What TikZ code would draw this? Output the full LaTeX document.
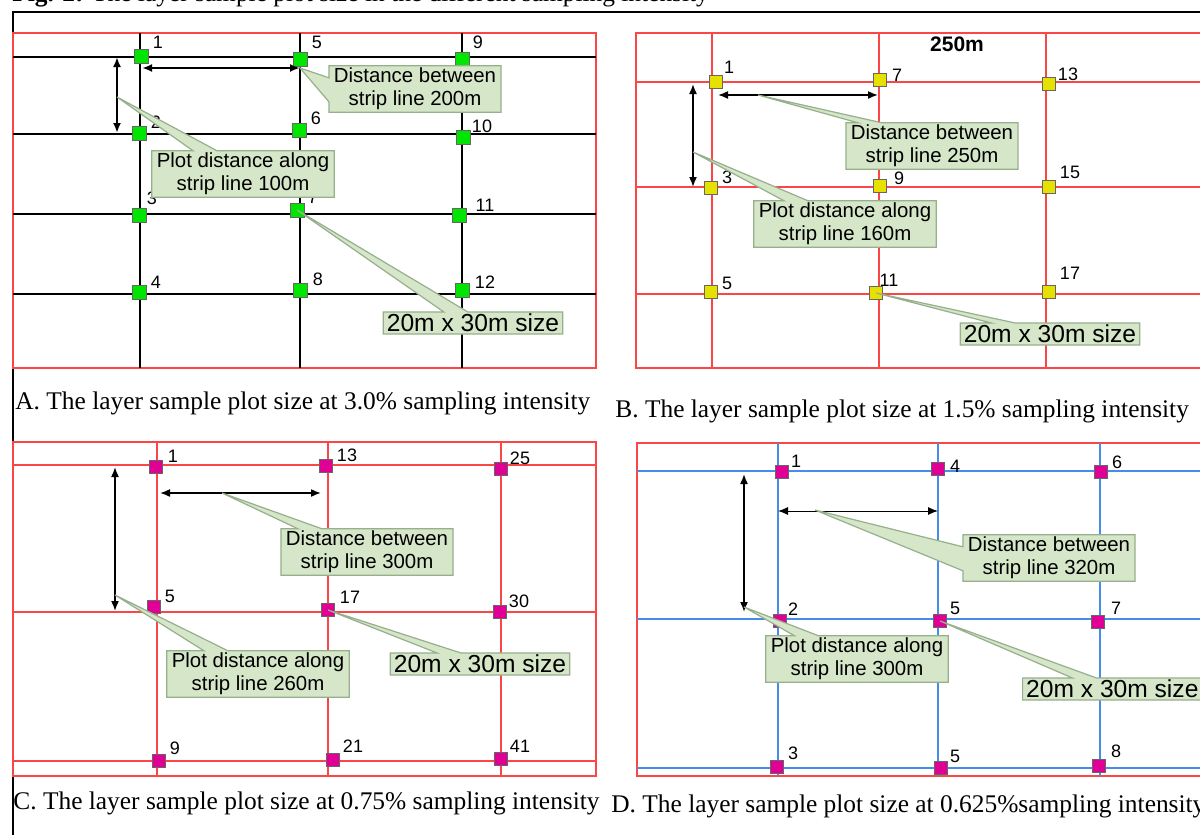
\documentclass[tikz,border=0pt]{standalone}
\usepackage{fontspec}
\setmainfont{Liberation Serif}
\setsansfont{Liberation Sans}
\usetikzlibrary{arrows.meta,shapes.callouts}

\definecolor{linered}{RGB}{250,70,70}
\definecolor{lineblue}{RGB}{70,140,235}
\definecolor{plotgreen}{RGB}{0,230,0}
\definecolor{plotyellow}{RGB}{230,225,0}
\definecolor{plotpink}{RGB}{225,0,150}
\definecolor{notefill}{RGB}{214,230,200}
\definecolor{noteedge}{RGB}{150,175,140}

\tikzset{
  stripblack/.style={draw=black, line width=1pt},
  stripred/.style={draw=linered, line width=0.8pt},
  stripblue/.style={draw=lineblue, line width=0.8pt},
  plot/.style={draw=black!60, line width=0.4pt, minimum size=6.5pt, inner sep=0pt},
  num/.style={font=\sffamily\fontsize{9}{9}\selectfont, inner sep=0pt},
  note/.style={rectangle callout, fill=notefill, draw=noteedge, line width=0.6pt,
    align=center, inner xsep=2.5pt, inner ysep=1.2pt, callout pointer width=12pt,
    font=\sffamily\fontsize{10.2}{11.3}\selectfont},
  bignote/.style={note, inner xsep=1.8pt, inner ysep=1pt,
    font=\sffamily\fontsize{12.3}{13}\selectfont},
  dimarrow/.style={{Latex[length=5pt,width=4pt]}-{Latex[length=5pt,width=4pt]}, line width=0.8pt},
  caption/.style={font=\fontsize{12.7}{14}\selectfont, inner sep=0pt, anchor=base west},
}

\begin{document}
\begin{tikzpicture}[x=0.5pt,y=-0.5pt]
  \useasboundingbox (0,0) rectangle (1200,835);

  % Figure title (cut by the page) and outer frame
  \node[caption] (title) at (12,2) {\textbf{Fig. 2:} The layer sample plot size in the different sampling intensity};
  \draw[line width=1pt] (1200,12) -- (13,12) -- (13,835);

  % ---------------- A: 3.0% ----------------
  \draw[stripred] (13,33) rectangle (596,368);
  \foreach \x in {140,300,462} {
      \draw[stripblack] (\x,33) -- (\x,368);
  }
  \foreach \y in {57,134,214,294} {
      \draw[stripblack] (13,\y) -- (596,\y);
  }
  \foreach \x/\y/\lx/\ly/\t [count=\i] in {141/56/158/42/1, 139/133/156/122/2, 139/215/152/198/3,
      139/292/156/282/4, 300/59/317/42/5, 299/130/316/118/6, 297/210/313/197/7, 300/290/318/279/8,
      462/59/478/42/9, 463/137/482/126/10, 459/215/485/205/11, 462/290/485/282/12} {
      \node[plot, fill=plotgreen, minimum size=7pt] (a\i) at (\x,\y) {};
      \node[num] (la\i) at (\lx,\ly) {\t};
  }
  \coordinate (aH1) at (142,68);
  \coordinate (aH2) at (300,68);
  \coordinate (aV1) at (117,57);
  \coordinate (aV2) at (117,133);
  \draw[dimarrow, line width=1pt] (aH1) -- (aH2);
  \draw[dimarrow, line width=1pt] (aV1) -- (aV2);
  \coordinate (aVmid) at (117,97);
  \node[note, callout absolute pointer={(aH2)}] (aDist) at (415,89) {Distance between\\strip line 200m};
  \node[note, callout absolute pointer={(aVmid)}] (aPlot) at (243,174) {Plot distance along\\strip line 100m};
  \node[bignote, callout absolute pointer={(a7)}] (aSize) at (473,323) {20m x 30m size};
  \node[caption] (capA) at (15,409) {A. The layer sample plot size at 3.0\% sampling intensity};

  % ---------------- B: 1.5% ----------------
  \draw[stripred] (636,33) rectangle (1204,368);
  \foreach \x in {712,879,1046} {
      \draw[stripred] (\x,33) -- (\x,368);
  }
  \foreach \y in {82,187,294} {
      \draw[stripred] (636,\y) -- (1204,\y);
  }
  \node[font=\sffamily\bfseries\fontsize{10.5}{11}\selectfont, inner sep=0pt] (bHead) at (957,44) {250m};
  \foreach \x/\y/\lx/\ly/\t [count=\i] in {716/82/729/67/1, 711/188/727/177/3, 711/292/727/283/5,
      880/80/897/75/7, 880/186/899/178/9, 876/293/889/280/11,
      1049/84/1068/74/13, 1049/187/1070/172/15, 1049/292/1070/273/17} {
      \node[plot, fill=plotyellow] (b\i) at (\x,\y) {};
      \node[num] (lb\i) at (\lx,\ly) {\t};
  }
  \coordinate (bH1) at (718,95);
  \coordinate (bH2) at (878,95);
  \coordinate (bV1) at (693,84);
  \coordinate (bV2) at (693,187);
  \draw[dimarrow] (bH1) -- (bH2);
  \draw[dimarrow] (bV1) -- (bV2);
  \coordinate (bHmid) at (758,95);
  \coordinate (bVmid) at (693,152);
  \node[note, callout absolute pointer={(bHmid)}] (bDist) at (932,146) {Distance between\\strip line 250m};
  \node[note, callout absolute pointer={(bVmid)}] (bPlot) at (845,224) {Plot distance along\\strip line 160m};
  \node[bignote, callout absolute pointer={(b6)}] (bSize) at (1050,334) {20m x 30m size};
  \node[caption] (capB) at (615,417) {B. The layer sample plot size at 1.5\% sampling intensity};

  % ---------------- C: 0.75% ----------------
  \draw[stripred] (13,442) rectangle (596,776);
  \foreach \x in {157,328,501} {
      \draw[stripred] (\x,442) -- (\x,776);
  }
  \foreach \y in {465,612,761} {
      \draw[stripred] (13,\y) -- (596,\y);
  }
  \foreach \x/\y/\lx/\ly/\t [count=\i] in {156/467/173/456/1, 154/607/170/596/5, 159/761/175/748/9,
      326/466/347/455/13, 328/610/350/597/17, 333/760/353/746/21,
      501/469/520/458/25, 500/612/519/601/30, 501/759/520/746/41} {
      \node[plot, fill=plotpink] (c\i) at (\x,\y) {};
      \node[num] (lc\i) at (\lx,\ly) {\t};
  }
  \coordinate (cH1) at (160,493);
  \coordinate (cH2) at (321,493);
  \coordinate (cV1) at (115,467);
  \coordinate (cV2) at (115,611);
  \draw[dimarrow] (cH1) -- (cH2);
  \draw[dimarrow] (cV1) -- (cV2);
  \coordinate (cHmid) at (222,493);
  \coordinate (cVmid) at (115,595);
  \node[note, callout absolute pointer={(cHmid)}] (cDist) at (367,552) {Distance between\\strip line 300m};
  \node[note, callout absolute pointer={(cVmid)}] (cPlot) at (258,674) {Plot distance along\\strip line 260m};
  \node[bignote, callout absolute pointer={(c5)}] (cSize) at (480,664) {20m x 30m size};
  \node[caption] (capC) at (13,809) {C. The layer sample plot size at 0.75\% sampling intensity};

  % ---------------- D: 0.625% ----------------
  \draw[stripred] (637,443) rectangle (1204,776);
  \foreach \x in {778,938,1100} {
      \draw[stripblue] (\x,443) -- (\x,776);
  }
  \foreach \y in {471,619,768} {
      \draw[stripblue] (637,\y) -- (1204,\y);
  }
  \foreach \x/\y/\lx/\ly/\t [count=\i] in {782/472/796/461/1, 780/621/793/609/2, 777/767/793/753/3,
      938/469/955/466/4, 940/621/955/608/5, 941/768/955/756/5,
      1101/472/1117/462/6, 1098/622/1116/608/7, 1099/766/1116/751/8} {
      \node[plot, fill=plotpink] (d\i) at (\x,\y) {};
      \node[num] (ld\i) at (\lx,\ly) {\t};
  }
  \coordinate (dH1) at (778,511);
  \coordinate (dH2) at (938,511);
  \coordinate (dV1) at (744,474);
  \coordinate (dV2) at (744,612);
  \draw[dimarrow, line width=0.5pt] (dH1) -- (dH2);
  \draw[dimarrow] (dV1) -- (dV2);
  \coordinate (dHmid) at (815,510);
  \coordinate (dVmid) at (744,607);
  \node[note, callout absolute pointer={(dHmid)}] (dDist) at (1049,558) {Distance between\\strip line 320m};
  \node[note, callout absolute pointer={(dVmid)}] (dPlot) at (857,659) {Plot distance along\\strip line 300m};
  \node[bignote, anchor=west, callout absolute pointer={(d5)}] (dSize) at (1022,689) {20m x 30m size};
  \node[caption] (capD) at (611,812) {D. The layer sample plot size at 0.625\%sampling intensity};
\end{tikzpicture}
\end{document}
